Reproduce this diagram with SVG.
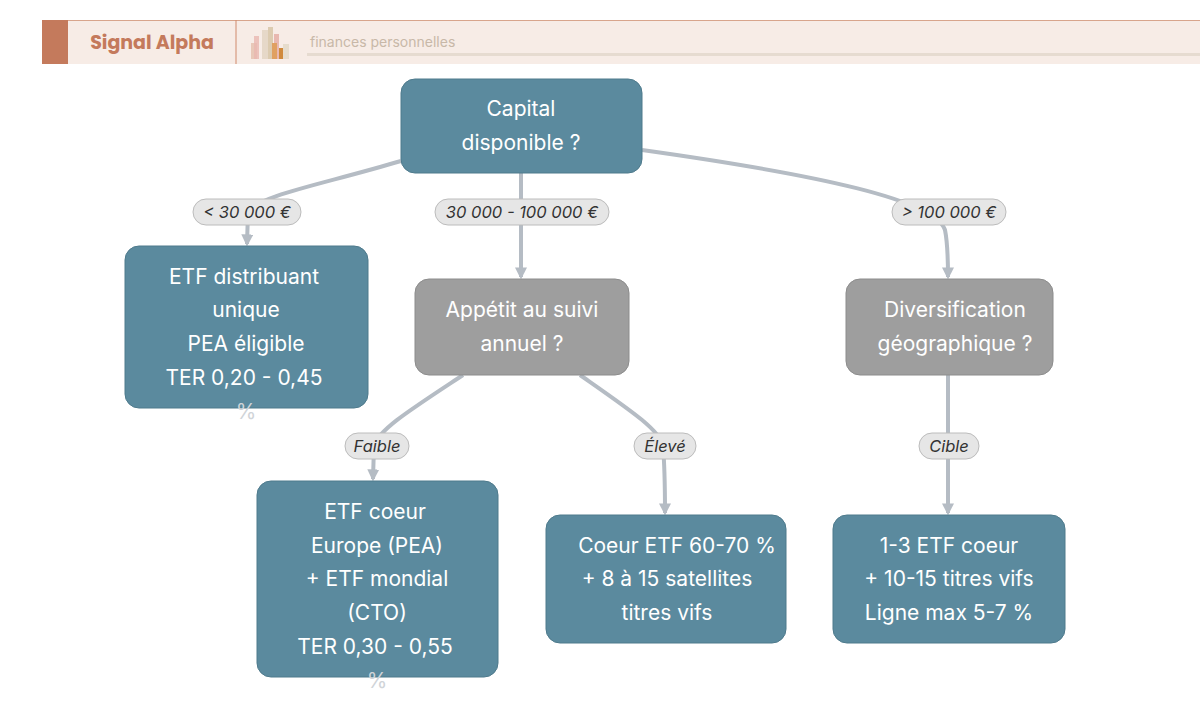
<svg xmlns="http://www.w3.org/2000/svg" width="1200" height="721" viewBox="0 0 1200 721">
<style>
.n{fill:#5b8a9e;stroke:#4e7a8c;stroke-width:1}
.g{fill:#9e9e9e;stroke:#8c8c8c;stroke-width:1}
.t{font-family:Inter,"Liberation Sans",sans-serif;font-size:21px;fill:#fff;text-anchor:middle}
.o{fill:#d0d4d8}
.e{fill:none;stroke:#b5bcc4;stroke-width:4}
.p{fill:#e6e6e6;stroke:#bcbcbc;stroke-width:1}
.l{font-family:Inter,"Liberation Sans",sans-serif;font-size:16.5px;font-style:italic;fill:#333;text-anchor:middle}
</style>
<defs><marker id="a" viewBox="0 0 10 10" refX="8" refY="5" markerWidth="3" markerHeight="3" orient="auto"><path d="M0 0L10 5L0 10z" fill="#b5bcc4"/></marker></defs>
<rect width="1200" height="721" fill="#fff"/>
<g id="header">
<rect x="42" y="20" width="1158" height="44" fill="#f7ece6"/>
<line x1="42" y1="20.5" x2="1200" y2="20.5" stroke="#d8a58c"/>
<rect x="42" y="20" width="26" height="44" fill="#c47a5c"/>
<line x1="236" y1="20" x2="236" y2="64" stroke="#d08a6c"/>
<text x="152" y="49" font-family="Poppins,Lato,'Liberation Sans',sans-serif" font-size="19" font-weight="bold" fill="#c47a5c" text-anchor="middle">Signal Alpha</text>
<rect x="251" y="43" width="6" height="16" fill="#e8c8b8"/><rect x="254" y="36" width="5" height="23" fill="#e8b8b0" opacity=".8"/>
<rect x="262" y="30" width="6" height="29" fill="#e6d8c8"/><rect x="268" y="27" width="5" height="32" fill="#dccbb0"/>
<rect x="274" y="34" width="5" height="25" fill="#e8b8b0"/><rect x="272" y="43" width="5" height="16" fill="#e0a060"/>
<rect x="279" y="48" width="4" height="11" fill="#d08a3c"/><rect x="283" y="44" width="6" height="15" fill="#e6dccc"/>
<text x="310" y="47" font-family="Inter,'Liberation Sans',sans-serif" font-size="14" fill="#c8b8a8">finances personnelles</text>
<rect x="307" y="53" width="893" height="3" fill="#e6dbd0"/>
</g>
<g id="edges">
<path class="e" d="M401 161 C 320 185 260 195 248 212 L 247 244" marker-end="url(#a)"/>
<path class="e" d="M521 173 L 521 277" marker-end="url(#a)"/>
<path class="e" d="M642 150 C 820 175 935 200 945 230 Q 948 245 948 277" marker-end="url(#a)"/>
<path class="e" d="M463 375 C 410 410 378 430 374 446 L 373 479" marker-end="url(#a)"/>
<path class="e" d="M580 375 C 630 410 660 430 663 446 Q 665 470 665 513" marker-end="url(#a)"/>
<path class="e" d="M948 375 L 948 513" marker-end="url(#a)"/>
<rect class="p" x="193" y="199" width="108" height="26" rx="13"/><text class="l" x="247" y="218">&lt; 30 000 €</text>
<rect class="p" x="435" y="199" width="174" height="26" rx="13"/><text class="l" x="522" y="218">30 000 - 100 000 €</text>
<rect class="p" x="892" y="199" width="114" height="26" rx="13"/><text class="l" x="949" y="218">&gt; 100 000 €</text>
<rect class="p" x="345" y="433" width="64" height="26" rx="13"/><text class="l" x="377" y="452">Faible</text>
<rect class="p" x="634" y="433" width="62" height="26" rx="13"/><text class="l" x="665" y="452">Élevé</text>
<rect class="p" x="919" y="433" width="60" height="26" rx="13"/><text class="l" x="949" y="452">Cible</text>
</g>
<g id="n1"><rect class="n" x="401" y="79" width="241" height="94" rx="14"/><text class="t" x="521" y="116">Capital</text><text class="t" x="521" y="150">disponible ?</text></g>
<g id="n2"><rect class="n" x="125" y="246" width="243" height="162" rx="14"/><text class="t" x="244" y="284">ETF distribuant</text><text class="t" x="246" y="317">unique</text><text class="t" x="246" y="351">PEA éligible</text><text class="t" x="244" y="385">TER 0,20 - 0,45</text><text class="t o" x="246" y="419">%</text></g>
<g id="n3"><rect class="g" x="415" y="279" width="214" height="96" rx="14"/><text class="t" x="522" y="317">Appétit au suivi</text><text class="t" x="522" y="351">annuel ?</text></g>
<g id="n4"><rect class="g" x="846" y="279" width="207" height="96" rx="14"/><text class="t" x="955" y="317">Diversification</text><text class="t" x="955" y="351">géographique ?</text></g>
<g id="n5"><rect class="n" x="257" y="481" width="241" height="196" rx="14"/><text class="t" x="375" y="519">ETF coeur</text><text class="t" x="377" y="553">Europe (PEA)</text><text class="t" x="377" y="586">+ ETF mondial</text><text class="t" x="377" y="620">(CTO)</text><text class="t" x="375" y="654">TER 0,30 - 0,55</text><text class="t o" x="377" y="688">%</text></g>
<g id="n6"><rect class="n" x="546" y="515" width="240" height="128" rx="14"/><text class="t" x="677" y="553">Coeur ETF 60-70 %</text><text class="t" x="667" y="586">+ 8 à 15 satellites</text><text class="t" x="667" y="620">titres vifs</text></g>
<g id="n7"><rect class="n" x="833" y="515" width="232" height="128" rx="14"/><text class="t" x="949" y="553">1-3 ETF coeur</text><text class="t" x="949" y="586">+ 10-15 titres vifs</text><text class="t" x="949" y="620">Ligne max 5-7 %</text></g>
</svg>
